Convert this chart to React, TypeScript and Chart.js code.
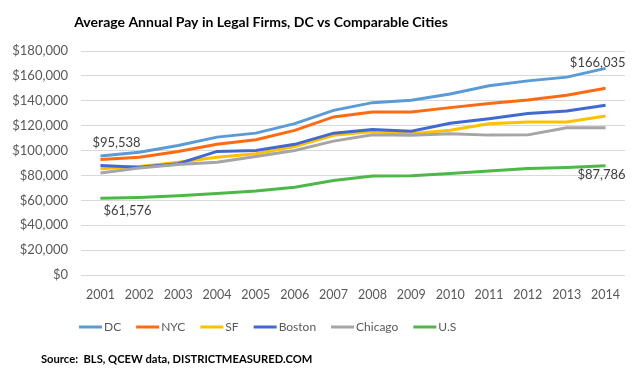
import React, { useEffect, useRef } from 'react';
import { Chart, registerables } from 'chart.js';

Chart.register(...registerables);

const years = ['2001', '2002', '2003', '2004', '2005', '2006', '2007', '2008', '2009', '2010', '2011', '2012', '2013', '2014'];
const dc = [95538, 98700, 104000, 110800, 114000, 121600, 132300, 138500, 140400, 145500, 152000, 156000, 159000, 166035];
const nyc = [92800, 94700, 99300, 105000, 108700, 116200, 127000, 131000, 131000, 134500, 137800, 140600, 144400, 150000];
const sf = [85300, 87200, 90600, 94700, 97400, 103300, 112200, 115400, 113500, 116300, 121600, 122900, 122900, 127700];
const boston = [88000, 86600, 89400, 99300, 100000, 105000, 114000, 117000, 115600, 122000, 125600, 129700, 131800, 136400];
const chicago = [82000, 86000, 88800, 90600, 95200, 100000, 107600, 112700, 112200, 113600, 112400, 112600, 118300, 118300];
const us = [61576, 62300, 63700, 65400, 67500, 70500, 76000, 79500, 79800, 81500, 83500, 85500, 86300, 87786];

const seriesNames = ['DC', 'NYC', 'SF', 'Boston', 'Chicago', 'U.S'];
const seriesColors = ['#5B9BD5', '#FF6A13', '#FFC000', '#4169CF', '#A5A5A5', '#4DB848'];

const title = 'Average Annual Pay in Legal Firms, DC vs Comparable Cities';
const source = 'Source:  BLS, QCEW data, DISTRICTMEASURED.COM';

const FONT = 'Lato, "Open Sans", sans-serif';

const fmt = (v: number) => '$' + Math.round(v).toLocaleString('en-US');

export default function App() {
  const ref = useRef<HTMLCanvasElement>(null);

  useEffect(() => {
    const seriesValues = [dc, nyc, sf, boston, chicago, us];

    const textPlugin = {
      id: 'texts',
      afterDraw(chart: any) {
        const ctx = chart.ctx as CanvasRenderingContext2D;
        const xs = chart.scales.x;
        const ys = chart.scales.y;
        ctx.save();

        // title
        ctx.fillStyle = '#000000';
        ctx.font = `bold 14px ${FONT}`;
        ctx.textAlign = 'center';
        ctx.textBaseline = 'middle';
        ctx.fillText(title, 261, 22);

        // legend
        ctx.font = `12px ${FONT}`;
        ctx.textAlign = 'left';
        let lx = 79;
        const ly = 327;
        seriesNames.forEach((name, i) => {
          ctx.strokeStyle = seriesColors[i];
          ctx.lineWidth = 3;
          ctx.beginPath();
          ctx.moveTo(lx, ly);
          ctx.lineTo(lx + 23, ly);
          ctx.stroke();
          ctx.fillStyle = '#595959';
          ctx.fillText(name, lx + 25, ly);
          lx += 25 + ctx.measureText(name).width + 15;
        });

        // source
        ctx.fillStyle = '#000000';
        ctx.font = `bold 11.2px ${FONT}`;
        ctx.textAlign = 'left';
        ctx.fillText(source, 41, 359);

        // data labels
        ctx.fillStyle = '#404040';
        ctx.font = `13px ${FONT}`;
        const last = years.length - 1;
        let px = xs.getPixelForValue(0);
        ctx.textAlign = 'left';
        ctx.fillText(fmt(dc[0]), px - 8, ys.getPixelForValue(dc[0]) - 13);
        ctx.fillText(fmt(us[0]), px + 3, ys.getPixelForValue(us[0]) + 12);
        px = xs.getPixelForValue(last);
        ctx.textAlign = 'right';
        ctx.fillText(fmt(dc[last]), px + 20, ys.getPixelForValue(dc[last]) - 6);
        ctx.fillText(fmt(us[last]), px + 20, ys.getPixelForValue(us[last]) + 9);

        ctx.restore();
      },
    };

    const chart = new Chart(ref.current as HTMLCanvasElement, {
      type: 'line',
      data: {
        labels: years,
        datasets: seriesNames.map((name, i) => ({
          label: name,
          data: seriesValues[i],
          borderColor: seriesColors[i],
          backgroundColor: seriesColors[i],
          borderWidth: 3,
          pointRadius: 0,
          tension: 0,
          order: seriesNames.length - i,
        })),
      },
      options: {
        animation: false,
        responsive: false,
        layout: { padding: { top: 51, right: 15, bottom: 73, left: 0 } },
        plugins: {
          legend: { display: false },
          title: { display: false },
          tooltip: { enabled: false },
        },
        scales: {
          x: {
            offset: true,
            grid: { display: false },
            border: { display: false },
            ticks: { color: '#595959', font: { family: FONT, size: 12.5 }, padding: 4, maxRotation: 0, autoSkip: false },
          },
          y: {
            min: 0,
            max: 180000,
            grid: { color: '#D9D9D9', lineWidth: 1, drawTicks: false },
            border: { display: false },
            ticks: {
              stepSize: 20000,
              color: '#595959',
              font: { family: FONT, size: 13 },
              padding: 13,
              callback: (v: any) => fmt(Number(v)),
            },
            afterFit: (scale: any) => { scale.width = 81; },
          },
        },
      },
      plugins: [textPlugin],
    });

    return () => chart.destroy();
  }, []);

  return (
    <div style={{ position: 'fixed', left: 0, top: 0, width: 640, height: 379, background: '#ffffff' }}>
      <canvas ref={ref} width={640} height={379} />
    </div>
  );
}
